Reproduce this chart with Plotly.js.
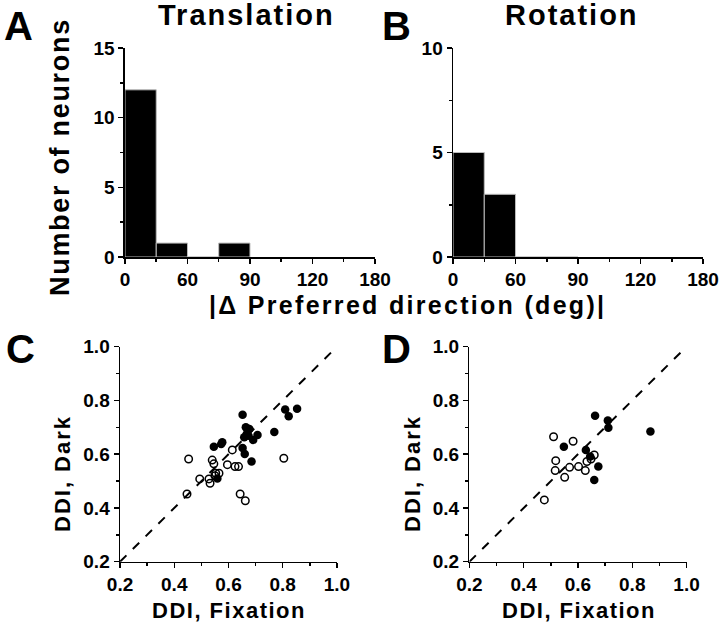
<!DOCTYPE html>
<html>
<head>
<meta charset="utf-8">
<script src="https://cdn.plot.ly/plotly-3.0.1.min.js"></script>
<style>
  body { margin: 0; background: #fff; }
  #chart { width: 720px; height: 631px; }
</style>
</head>
<body>
<div id="chart"></div>
<script>
// histogram bins (deg), counts per panel
var binCenters = [11.25, 33.75, 56.25, 78.75];
var countsTranslation = [12, 1, 0, 1];
var countsRotation = [5, 3, 0, 0];
var histTickVals = [0, 45, 90, 135, 180];
var histTickText = ['0', '60', '90', '120', '180'];

// DDI scatter, panel C (translation)
var cFilledX = [0.652, 0.664, 0.677, 0.658, 0.667, 0.691, 0.707, 0.674, 0.577, 0.573, 0.546, 0.652, 0.660, 0.685, 0.559, 0.769, 0.809, 0.822, 0.853];
var cFilledY = [0.747, 0.700, 0.694, 0.663, 0.675, 0.653, 0.671, 0.669, 0.644, 0.638, 0.628, 0.623, 0.601, 0.573, 0.510, 0.683, 0.766, 0.741, 0.769];
var cOpenX = [0.453, 0.447, 0.494, 0.532, 0.528, 0.540, 0.546, 0.553, 0.565, 0.596, 0.614, 0.624, 0.637, 0.643, 0.662, 0.804, 0.550];
var cOpenY = [0.582, 0.452, 0.508, 0.492, 0.508, 0.578, 0.564, 0.529, 0.529, 0.561, 0.616, 0.554, 0.554, 0.452, 0.427, 0.585, 0.520];

// DDI scatter, panel D (rotation)
var dFilledX = [0.663, 0.710, 0.712, 0.867, 0.548, 0.629, 0.645, 0.675, 0.660];
var dFilledY = [0.743, 0.725, 0.698, 0.684, 0.628, 0.616, 0.591, 0.554, 0.504];
var dOpenX = [0.510, 0.582, 0.518, 0.516, 0.551, 0.569, 0.602, 0.627, 0.633, 0.660, 0.476, 0.648];
var dOpenY = [0.665, 0.648, 0.576, 0.539, 0.514, 0.551, 0.554, 0.539, 0.573, 0.597, 0.430, 0.582];

var unity = [0.2, 0.98];

var FONT = 'Liberation Sans, Arial, sans-serif';

function bars(counts, xa, ya) {
  return {
    type: 'bar', x: binCenters, y: counts, width: 22.5,
    xaxis: xa, yaxis: ya,
    marker: { color: '#000', line: { color: '#bbb', width: 1 } },
    hoverinfo: 'skip', showlegend: false
  };
}

function pts(x, y, open, xa, ya) {
  return {
    type: 'scatter', mode: 'markers', x: x, y: y, xaxis: xa, yaxis: ya,
    marker: open
      ? { symbol: 'circle-open', size: 7.5, color: '#000', line: { width: 1.5, color: '#000' } }
      : { symbol: 'circle', size: 8.5, color: '#000' },
    cliponaxis: false, showlegend: false
  };
}

function diag(xa, ya) {
  return {
    type: 'scatter', mode: 'lines', x: unity, y: unity, xaxis: xa, yaxis: ya,
    line: { color: '#000', width: 2, dash: '9px,9px' }, showlegend: false
  };
}

var data = [
  bars(countsTranslation, 'x', 'y'),
  bars(countsRotation, 'x2', 'y2'),
  diag('x3', 'y3'),
  pts(cOpenX, cOpenY, true, 'x3', 'y3'),
  pts(cFilledX, cFilledY, false, 'x3', 'y3'),
  diag('x4', 'y4'),
  pts(dOpenX, dOpenY, true, 'x4', 'y4'),
  pts(dFilledX, dFilledY, false, 'x4', 'y4')
];

var tickFont = { family: FONT, size: 19, color: '#000', weight: 'bold' };

function axisBase(extra) {
  var a = {
    showline: true, linecolor: '#000', linewidth: 1.5,
    ticks: 'outside', ticklen: 5, tickwidth: 1.5, tickcolor: '#000',
    showgrid: false, zeroline: false, tickfont: tickFont, fixedrange: true
  };
  for (var k in extra) a[k] = extra[k];
  return a;
}

function histX(domain, anchor) {
  return axisBase({
    domain: domain, anchor: anchor, range: [0, 180],
    tickmode: 'array', tickvals: histTickVals, ticktext: histTickText,
    minor: { tickmode: 'linear', tick0: 0, dtick: 22.5, ticks: 'outside', ticklen: 3, tickcolor: '#000' }
  });
}
function histY(domain, anchor, max) {
  return axisBase({
    domain: domain, anchor: anchor, range: [0, max], dtick: 5,
    minor: { dtick: 2.5, ticks: 'outside', ticklen: 3, tickcolor: '#000' }
  });
}
function ddiAxis(domain, anchor) {
  return axisBase({
    domain: domain, anchor: anchor, range: [0.2, 1.0], dtick: 0.2, tickformat: '.1f',
    minor: { dtick: 0.1, ticks: 'outside', ticklen: 3, tickcolor: '#000' }
  });
}

var topY = [0.5927, 0.9239];
var botY = [0.1098, 0.4506];

function txt(text, x, y, size, angle, spacing) {
  if (spacing) text = '<span style="letter-spacing:' + spacing + 'px">' + text + '</span>';
  return {
    text: text, x: x / 720, y: 1 - y / 631, xref: 'paper', yref: 'paper',
    xanchor: 'center', yanchor: 'middle', showarrow: false, textangle: angle || 0,
    font: { family: FONT, size: size, color: '#000', weight: 'bold' }
  };
}

var layout = {
  width: 720, height: 631,
  margin: { l: 0, r: 0, t: 0, b: 0 },
  paper_bgcolor: '#fff', plot_bgcolor: '#fff',
  bargap: 0,
  xaxis: histX([0.1736, 0.5208], 'y'),
  yaxis: histY(topY, 'x', 15),
  xaxis2: histX([0.6292, 0.9764], 'y2'),
  yaxis2: histY(topY, 'x2', 10),
  xaxis3: ddiAxis([0.1667, 0.468], 'y3'),
  yaxis3: ddiAxis(botY, 'x3'),
  xaxis4: ddiAxis([0.652, 0.9535], 'y4'),
  yaxis4: ddiAxis(botY, 'x4'),
  annotations: [
    txt('A', 18, 26, 40),
    txt('B', 396, 26, 40),
    txt('C', 20, 349, 40),
    txt('D', 396, 349, 40),
    txt('Translation', 246, 15, 29, 0, 2),
    txt('Rotation', 572, 15, 29, 0, 2),
    txt('Number of neurons', 60, 157, 27, -90, 1.7),
    txt('|\u0394 Preferred direction (deg)|', 407, 305, 25, 0, 2.3),
    txt('DDI, Dark', 62, 474, 22, -90, 2),
    txt('DDI, Dark', 412, 474, 22, -90, 2),
    txt('DDI, Fixation', 229, 610, 22, 0, 1.5),
    txt('DDI, Fixation', 579, 610, 22, 0, 1.5)
  ]
};

Plotly.newPlot('chart', data, layout, { displayModeBar: false, staticPlot: true });
</script>
</body>
</html>
